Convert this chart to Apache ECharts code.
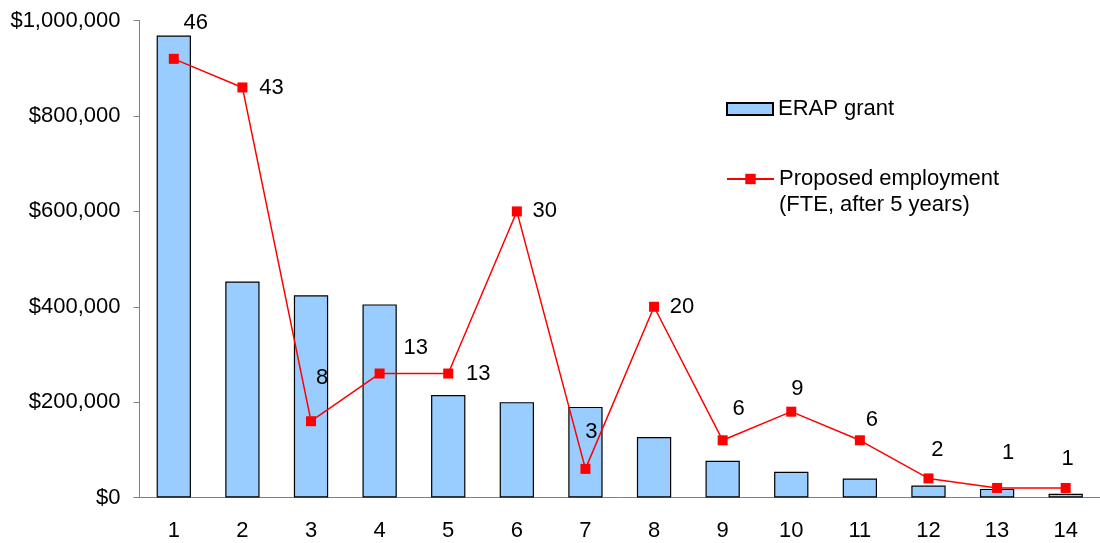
<!DOCTYPE html>
<html>
<head>
<meta charset="utf-8">
<style>
  html, body { margin: 0; padding: 0; background: #fff; }
  #chart { width: 1100px; height: 543px; }
</style>
<script src="https://cdn.jsdelivr.net/npm/echarts@6/dist/echarts.min.js"></script>
</head>
<body>
<div id="chart"></div>
<script>
// Project numbers along the category axis
const categories = ['1', '2', '3', '4', '5', '6', '7', '8', '9', '10', '11', '12', '13', '14'];
// ERAP grant per project, in dollars
const grantValues = [969000, 453000, 424000, 405000, 215000, 200000, 190000, 127000, 77000, 54000, 40000, 25000, 18000, 8000];
// Proposed employment per project (FTE, after 5 years)
const fteValues = [46, 43, 8, 13, 13, 30, 3, 20, 6, 9, 6, 2, 1, 1];
// Left axis ticks
const grantTicks = [0, 200000, 400000, 600000, 800000, 1000000];

const barName = 'ERAP grant';
const lineName = 'Proposed employment\n(FTE, after 5 years)';

// Where each FTE label sits relative to its marker (pixels)
const fteLabelShift = [[22, -36], [29, 0], [11, -43], [36, -26], [30, 0], [28, 0], [6, -37],
                       [28, 0], [16, -31], [6, -23], [12, -20], [9, -28], [11, -35], [2, -29]];

const FONT = "'Liberation Sans', Arial, sans-serif";
const FS = 22;
const chart = echarts.init(document.getElementById('chart'), null, { renderer: 'canvas' });

const fmtDollar = v => '$' + Number(v).toLocaleString('en-US');

chart.setOption({
  animation: false,
  backgroundColor: '#ffffff',
  textStyle: { fontFamily: FONT, color: '#000' },
  grid: { left: 139.5, right: -4.5, top: 20.7, bottom: 45.5, containLabel: false },
  legend: [
    {
      data: [barName],
      left: 726, top: 98, padding: 0,
      icon: 'rect',
      itemWidth: 46, itemHeight: 12, itemGap: 0,
      textStyle: { fontFamily: FONT, fontSize: FS, color: '#000' },
      selectedMode: false
    },
    {
      data: [lineName],
      left: 726, top: 140, padding: 0,
      itemWidth: 47, itemHeight: 13, itemGap: 0,
      // leading blank line keeps the first text line level with the marker
      formatter: name => '\n' + name,
      textStyle: { fontFamily: FONT, fontSize: FS, color: '#000', lineHeight: 26 },
      selectedMode: false
    }
  ],
  xAxis: {
    type: 'category',
    data: categories,
    boundaryGap: true,
    axisLine: { show: true, lineStyle: { color: '#808080', width: 1 } },
    axisTick: { show: false },
    axisLabel: { fontFamily: FONT, fontSize: FS, color: '#000', margin: 22, lineHeight: 22 },
    splitLine: { show: false }
  },
  yAxis: [
    {
      type: 'value',
      min: grantTicks[0],
      max: grantTicks[grantTicks.length - 1],
      interval: grantTicks[1] - grantTicks[0],
      axisLine: { show: true, lineStyle: { color: '#808080', width: 1 } },
      axisTick: { show: true, inside: false, length: 6, lineStyle: { color: '#808080' } },
      axisLabel: { fontFamily: FONT, fontSize: FS, color: '#000', margin: 19, formatter: fmtDollar },
      splitLine: { show: false }
    },
    {
      type: 'value',
      min: 0, max: 50, interval: 10,
      show: false,
      splitLine: { show: false }
    }
  ],
  series: [
    {
      name: barName,
      type: 'bar',
      yAxisIndex: 0,
      data: grantValues,
      barCategoryGap: '50%',
      itemStyle: { color: '#99CCFF', borderColor: '#000000', borderWidth: 1.2 },
      z: 2
    },
    {
      name: lineName,
      type: 'line',
      yAxisIndex: 1,
      data: fteValues.map((v, i) => ({
        value: v,
        label: { offset: fteLabelShift[i] }
      })),
      symbol: 'rect',
      symbolSize: 10,
      lineStyle: { color: '#FF0000', width: 1.5 },
      itemStyle: { color: '#FF0000' },
      label: {
        show: true,
        position: 'inside',
        fontFamily: FONT,
        fontSize: FS,
        color: '#000'
      },
      z: 3
    }
  ]
});
</script>
</body>
</html>
